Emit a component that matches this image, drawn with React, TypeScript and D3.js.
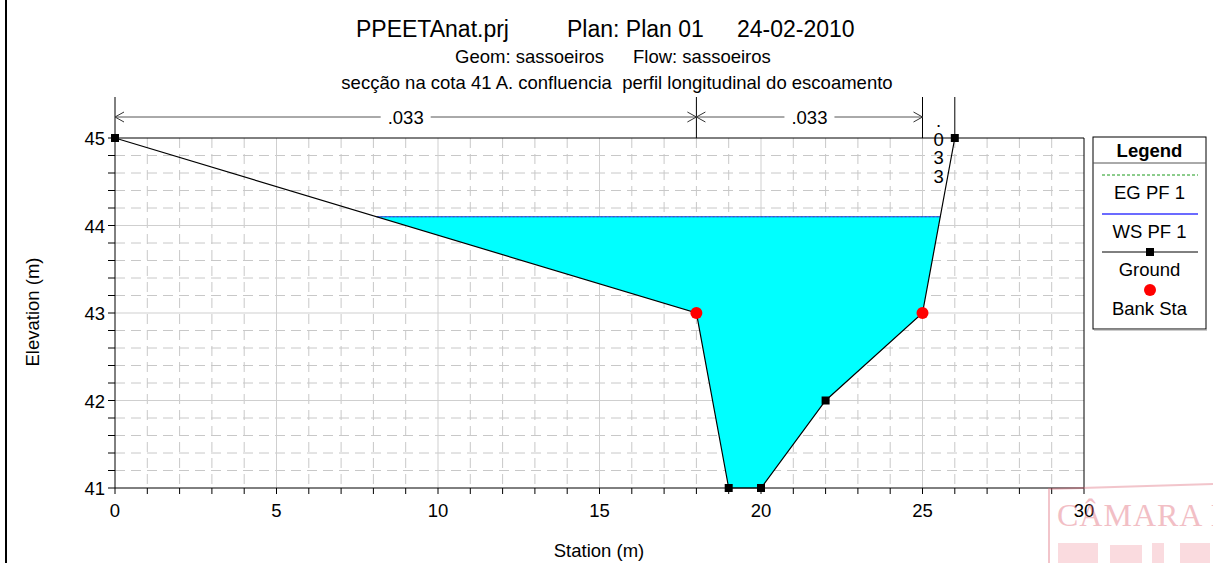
import React from "react";
import * as d3 from "d3";

const groundStation = [0, 18, 19, 20, 22, 25, 26];
const groundElev = [45, 43, 41, 41, 42, 43, 45];
const bankStations = [18, 25];
const bankElev = [43, 43];
const wsElev = 44.1;
const xTicks = [0, 5, 10, 15, 20, 25, 30];
const yTicks = [41, 42, 43, 44, 45];
const nStart = [0, 18, 25];
const nEnd = [18, 25, 26];
const nValue = [".033", ".033", ".033"];
const legendLabels = ["EG PF 1", "WS PF 1", "Ground", "Bank Sta"];

const FONT = "'Liberation Sans', Arial, Helvetica, sans-serif";

export default function App() {
  const W = 1213, H = 563;
  const x = d3.scaleLinear().domain([0, 30]).range([115, 1084]);
  const y = d3.scaleLinear().domain([41, 45]).range([488, 138]);

  const pts: [number, number][] = groundStation.map((s, i) => [s, groundElev[i]]);
  let leftX = 0, rightX = 0, li = 0, ri = 0;
  for (let i = 0; i < pts.length - 1; i++) {
    const [s0, e0] = pts[i], [s1, e1] = pts[i + 1];
    if (e0 >= wsElev && e1 < wsElev && !li) { leftX = s0 + (e0 - wsElev) / (e0 - e1) * (s1 - s0); li = i + 1; }
    if (e0 < wsElev && e1 >= wsElev) { rightX = s0 + (wsElev - e0) / (e1 - e0) * (s1 - s0); ri = i; }
  }
  const water: [number, number][] = [[leftX, wsElev], ...pts.slice(li, ri + 1), [rightX, wsElev]];
  const line = d3.line<[number, number]>().x(d => x(d[0])).y(d => y(d[1]));

  const minorX = d3.range(1, 30).filter(v => v % 5 !== 0);
  const majorX = d3.range(5, 30, 5);
  const minorY = d3.range(41.2, 45, 0.2).map(v => +v.toFixed(1)).filter(v => Math.abs(v - Math.round(v)) > 0.01);
  const majorY = [42, 43, 44];
  const allTicksX = d3.range(0, 31);
  const allTicksY = d3.range(41, 45.01, 0.2).map(v => +v.toFixed(1));

  const arrowY = 117;
  const chevron = (px: number, dir: number) =>
    `M${px + dir * 9},${arrowY - 5} L${px},${arrowY} L${px + dir * 9},${arrowY + 5}`;

  const lgX = 1093, lgY = 137, lgW = 113;
  const FS = 18.5;

  return (
    <svg width={W} height={H} style={{ position: "absolute", left: 0, top: 0, background: "#fff" }} fontFamily={FONT}>
      <rect x={0} y={0} width={W} height={H} fill="#fff" />
      <line x1={6} x2={6} y1={0} y2={H} stroke="#000" strokeWidth={2} />

      {/* titles */}
      <text y={37} fontSize={23} fill="#000">
        <tspan x={356}>PPEETAnat.prj</tspan>
        <tspan x={567}>Plan: Plan 01</tspan>
        <tspan x={737}>24-02-2010</tspan>
      </text>
      <text y={63} fontSize={FS} fill="#000">
        <tspan x={455}>Geom: sassoeiros</tspan>
        <tspan x={633}>Flow: sassoeiros</tspan>
      </text>
      <text x={617} y={89} fontSize={FS} textAnchor="middle" fill="#000" style={{ whiteSpace: "pre" }}>
        secção na cota 41 A. confluencia  perfil longitudinal do escoamento
      </text>

      {/* grid */}
      {minorX.map(v => (
        <line key={"mx" + v} x1={x(v)} x2={x(v)} y1={138} y2={488} stroke="#c8c8c8" strokeDasharray="10,6" />
      ))}
      {minorY.map(v => (
        <line key={"my" + v} x1={115} x2={1084} y1={y(v)} y2={y(v)} stroke="#c8c8c8" strokeDasharray="10,6" />
      ))}
      {majorX.map(v => (
        <line key={"Mx" + v} x1={x(v)} x2={x(v)} y1={138} y2={488} stroke="#cfcfcf" />
      ))}
      {majorY.map(v => (
        <line key={"My" + v} x1={115} x2={1084} y1={y(v)} y2={y(v)} stroke="#cfcfcf" />
      ))}

      {/* water */}
      <path d={line(water) + "Z"} fill="#00ffff" stroke="none" />
      <line x1={x(leftX)} x2={x(rightX)} y1={y(wsElev)} y2={y(wsElev)} stroke="#2030ff" strokeWidth={1.2} />
      <line x1={x(leftX)} x2={x(rightX)} y1={y(wsElev)} y2={y(wsElev)} stroke="#1a7a1a" strokeWidth={0.8} strokeDasharray="2,2" opacity={0.6} />

      {/* frame */}
      <line x1={115} x2={1084} y1={138} y2={138} stroke="#000" />
      <line x1={1084} x2={1084} y1={138} y2={488} stroke="#000" />
      <line x1={115} x2={1084} y1={488} y2={488} stroke="#000" />
      <line x1={115} x2={115} y1={97} y2={488} stroke="#000" />

      {/* ticks */}
      {allTicksX.map(v => (
        <line key={"tx" + v} x1={x(v)} x2={x(v)} y1={488} y2={494} stroke="#000" />
      ))}
      {allTicksY.map(v => (
        <line key={"ty" + v} x1={108} x2={115} y1={y(v)} y2={y(v)} stroke="#000" />
      ))}
      {xTicks.map(v => (
        <text key={"lx" + v} x={x(v)} y={517} fontSize={FS} textAnchor="middle" fill="#000">{v}</text>
      ))}
      {yTicks.map(v => (
        <text key={"ly" + v} x={105} y={y(v) + 7} fontSize={FS} textAnchor="end" fill="#000">{v}</text>
      ))}
      <text x={599} y={557} fontSize={FS} textAnchor="middle" fill="#000">Station (m)</text>
      <text transform={`translate(39,312) rotate(-90)`} fontSize={FS} textAnchor="middle" fill="#000">Elevation (m)</text>

      {/* manning n */}
      {nEnd.map((v, i) => (
        <line key={"nv" + i} x1={x(v)} x2={x(v)} y1={97} y2={138} stroke="#000" />
      ))}
      {nValue.map((t, i) => {
        const a = x(nStart[i]), b = x(nEnd[i]);
        const mid = (a + b) / 2;
        if (b - a > 60) {
          const half = 25;
          return (
            <g key={"n" + i}>
              <line x1={a} x2={mid - half} y1={arrowY} y2={arrowY} stroke="#555" />
              <line x1={mid + half} x2={b} y1={arrowY} y2={arrowY} stroke="#555" />
              <path d={chevron(a, 1)} fill="none" stroke="#333" />
              <path d={chevron(b, -1)} fill="none" stroke="#333" />
              <text x={mid} y={arrowY + 7} fontSize={FS} textAnchor="middle" fill="#000">{t}</text>
            </g>
          );
        }
        return (
          <g key={"n" + i}>
            {t.split("").map((c, k) => (
              <text key={k} x={mid} y={127 + k * 18.5} fontSize={FS} textAnchor="middle" fill="#000">{c}</text>
            ))}
          </g>
        );
      })}

      {/* ground */}
      <path d={line(pts)!} fill="none" stroke="#000" strokeWidth={1.2} />
      {pts.map((p, i) => (
        <rect key={"g" + i} x={x(p[0]) - 4} y={y(p[1]) - 4} width={8} height={8} fill="#000" />
      ))}
      {bankStations.map((s, i) => (
        <circle key={"b" + i} cx={x(s)} cy={y(bankElev[i])} r={6} fill="#ff0000" />
      ))}

      {/* legend */}
      <rect x={lgX} y={lgY} width={lgW} height={192} fill="#fff" stroke="#000" />
      <line x1={lgX + 1} x2={lgX + lgW + 1} y1={lgY + 193} y2={lgY + 193} stroke="#999" />
      <line x1={lgX} x2={lgX + lgW} y1={163} y2={163} stroke="#555" />
      <text x={lgX + lgW / 2} y={157} fontSize={FS} fontWeight="bold" textAnchor="middle" fill="#000">Legend</text>
      <line x1={1102} x2={1198} y1={175} y2={175} stroke="#1a9a1a" strokeDasharray="3,2" />
      <text x={lgX + lgW / 2} y={199} fontSize={FS} textAnchor="middle" fill="#000">{legendLabels[0]}</text>
      <line x1={1102} x2={1198} y1={214} y2={214} stroke="#3a3aff" strokeWidth={1.5} />
      <text x={lgX + lgW / 2} y={238} fontSize={FS} textAnchor="middle" fill="#000">{legendLabels[1]}</text>
      <line x1={1102} x2={1198} y1={252} y2={252} stroke="#000" />
      <rect x={1146} y={248} width={8} height={8} fill="#000" />
      <text x={lgX + lgW / 2} y={276} fontSize={FS} textAnchor="middle" fill="#000">{legendLabels[2]}</text>
      <circle cx={1150} cy={290} r={6} fill="#ff0000" />
      <text x={lgX + lgW / 2} y={315} fontSize={FS} textAnchor="middle" fill="#000">{legendLabels[3]}</text>

      {/* stamp */}
      <g opacity={0.4}>
        <polyline points="1049,563 1049,489 1213,484" fill="none" stroke="#e07080" strokeWidth={2} />
        <text x={1057} y={526} fontSize={32} fontFamily="'Liberation Serif', serif" fill="#e06070" letterSpacing={1}>CÂMARA M</text>
        <rect x={1058} y={543} width={40} height={20} fill="#f08090" opacity={0.7} />
        <rect x={1110} y={545} width={32} height={18} fill="#f08090" opacity={0.7} />
        <rect x={1152} y={543} width={12} height={20} fill="#f08090" opacity={0.7} />
        <rect x={1180} y={543} width={30} height={20} fill="#f08090" opacity={0.7} />
      </g>
    </svg>
  );
}
